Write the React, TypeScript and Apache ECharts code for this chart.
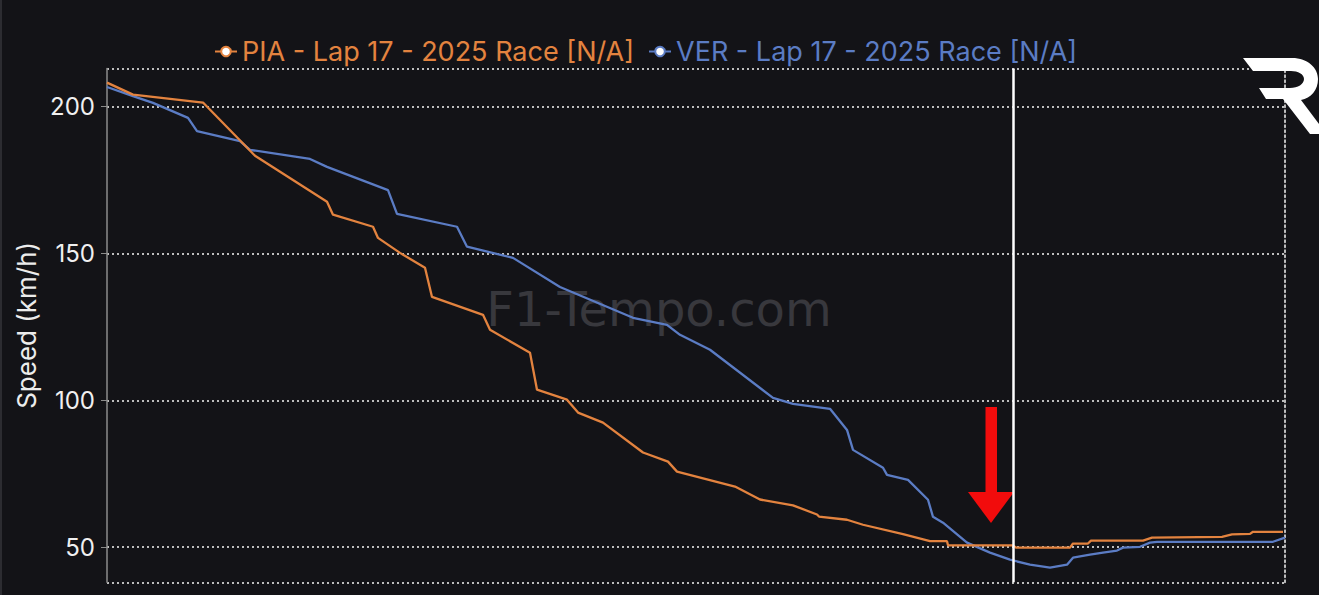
import React, { useEffect, useRef } from "react";
import * as echarts from "echarts";

// Distance along the lap segment (arbitrary units, x axis hidden)
const PIA_X = [0, 26, 96, 148, 220, 226, 266, 271, 293, 318, 325, 376, 383, 423, 430, 460, 471, 496, 536, 561, 570, 628, 653, 686, 710, 712, 740, 756, 796, 823, 840, 841, 906, 909, 963, 966, 981, 984, 1036, 1045, 1115, 1125, 1143, 1146, 1176];
const PIA_SPEED = [208.2, 204.1, 201.4, 183.3, 167.6, 163.2, 159.1, 155.3, 150.2, 145.1, 135.2, 129.1, 124.0, 116.2, 103.6, 100.2, 95.8, 92.4, 82.2, 79.1, 75.7, 70.6, 66.2, 64.2, 61.1, 60.4, 59.3, 57.6, 54.4, 52.0, 52.0, 50.6, 50.6, 49.8, 49.8, 51.2, 51.2, 52.2, 52.2, 53.2, 53.5, 54.3, 54.5, 55.2, 55.2];

const VER_X = [0, 26, 46, 81, 90, 133, 143, 203, 220, 281, 290, 350, 360, 406, 453, 526, 560, 573, 603, 666, 686, 723, 740, 746, 776, 780, 801, 821, 826, 836, 860, 883, 903, 923, 943, 960, 966, 983, 996, 1010, 1016, 1033, 1043, 1050, 1166, 1178];
const VER_SPEED = [206.7, 203.6, 201.3, 196.2, 191.7, 188.3, 185.3, 182.2, 179.5, 171.6, 163.5, 159.1, 152.3, 148.5, 138.6, 128.1, 125.7, 122.3, 117.2, 100.8, 98.8, 97.1, 89.9, 83.1, 77.0, 74.6, 72.9, 66.1, 60.3, 58.3, 51.5, 48.1, 45.7, 44.0, 43.0, 44.0, 46.4, 47.4, 48.1, 48.8, 49.8, 50.1, 51.5, 51.8, 51.8, 53.2];

const SERIES_NAMES = ["PIA - Lap 17 - 2025 Race [N/A]", "VER - Lap 17 - 2025 Race [N/A]"];
const SERIES_COLORS = ["#e3833f", "#5b7cc4"];
const CURSOR_X = 906;
const X_MIN = 0;
const X_MAX = 1178;
const Y_MIN = 38;
const Y_MAX = 213;

const LOGO_D =
  "M1243,58 L1292,58 C1308,58 1318,68 1318,79 C1318,90 1311,98 1301,100 L1319,124 L1319,134 L1310,134 L1283,99 L1266,99 L1259,88 L1290,88 C1298,88 1304,84 1304,79 C1304,74 1298,71 1291,71 L1253,71 Z";

let logoRegistered = false;

export default function App() {
  const ref = useRef<HTMLDivElement>(null);

  useEffect(() => {
    document.body.style.margin = "0";
    document.body.style.background = "#131317";
    if (!logoRegistered) {
      echarts.graphic.registerShape("logo", echarts.graphic.extendPath(LOGO_D, {}));
      logoRegistered = true;
    }
    const chart = echarts.init(ref.current!, null, { renderer: "svg" });
    const font = "Inter, 'Noto Sans', sans-serif";
    chart.setOption({
      animation: false,
      backgroundColor: "#131317",
      textStyle: { fontFamily: font },
      legend: {
        top: 33,
        left: 209,
        itemWidth: 22,
        itemHeight: 12,
        itemGap: 14,
        textStyle: { fontSize: 27, fontFamily: font },
        data: SERIES_NAMES.map((n, i) => ({
          name: n,
          textStyle: { color: SERIES_COLORS[i] },
        })),
      },
      grid: { left: 107, right: 34, top: 68.5, bottom: 12.7, containLabel: false },
      xAxis: {
        type: "value",
        min: X_MIN,
        max: X_MAX,
        axisLabel: { show: false },
        axisTick: { show: false },
        axisLine: { show: false },
        splitLine: { show: false },
      },
      yAxis: [
        {
          type: "value",
          min: Y_MIN,
          max: Y_MAX,
          splitNumber: 4,
          name: "Speed (km/h)",
          nameLocation: "middle",
          nameGap: 53,
          nameTextStyle: { color: "#ececec", fontSize: 26, fontFamily: font },
          axisLine: { show: true, lineStyle: { color: "#8c8c8c", width: 1.5 } },
          axisTick: { show: true, length: 6, lineStyle: { color: "#8c8c8c" } },
          axisLabel: {
            color: "#f0f0f0",
            fontSize: 24,
            margin: 12,
            showMinLabel: false,
            showMaxLabel: false,
            fontFamily: font,
          },
          splitLine: {
            show: true,
            lineStyle: { color: "#bdbdbd", width: 2, type: [2, 3] },
          },
        },
        {
          type: "value",
          min: Y_MIN,
          max: Y_MAX,
          position: "right",
          axisLine: { show: true, lineStyle: { color: "#bdbdbd", width: 2, type: [2, 3] } },
          axisTick: { show: false },
          axisLabel: { show: false },
          splitLine: { show: false },
        },
      ],
      series: [
        {
          name: SERIES_NAMES[0],
          type: "line",
          data: PIA_X.map((x, i) => [x, PIA_SPEED[i]]),
          showSymbol: false,
          symbol: "emptyCircle",
          symbolSize: 6,
          color: SERIES_COLORS[0],
          lineStyle: { width: 2.3, color: SERIES_COLORS[0] },
          z: 3,
          markLine: {
            silent: true,
            symbol: ["none", "none"],
            label: { show: false },
            lineStyle: { color: "#ffffff", width: 2.5, type: "solid" },
            data: [{ xAxis: CURSOR_X }],
          },
        },
        {
          name: SERIES_NAMES[1],
          type: "line",
          data: VER_X.map((x, i) => [x, VER_SPEED[i]]),
          showSymbol: false,
          symbol: "emptyCircle",
          symbolSize: 6,
          color: SERIES_COLORS[1],
          lineStyle: { width: 2.3, color: SERIES_COLORS[1] },
          z: 2,
        },
      ],
      graphic: [
        {
          type: "rect",
          shape: { x: 0, y: 0, width: 2, height: 595 },
          style: { fill: "#2c2c31" },
          z: 0,
        },
        {
          type: "text",
          x: 659,
          y: 309,
          z: 0,
          style: {
            text: "F1-Tempo.com",
            fill: "#38383d",
            fontSize: 48,
            fontFamily: "'DejaVu Sans', sans-serif",
            align: "center",
            verticalAlign: "middle",
          },
        },
        {
          type: "rect",
          shape: { x: 985.5, y: 407, width: 11.5, height: 86 },
          style: { fill: "#f20c0c" },
          z: 1,
        },
        {
          type: "polygon",
          shape: { points: [[968, 492], [1014, 492], [991, 523]] },
          style: { fill: "#f20c0c" },
          z: 1,
        },
        {
          type: "logo",
          x: 0,
          y: 0,
          scaleX: 1,
          scaleY: 1,
          style: { fill: "#ffffff" },
          z: 10,
        },
      ],
    });
    return () => chart.dispose();
  }, []);

  return (
    <div
      ref={ref}
      style={{ position: "fixed", left: 0, top: 0, width: 1319, height: 595, background: "#131317" }}
    />
  );
}
